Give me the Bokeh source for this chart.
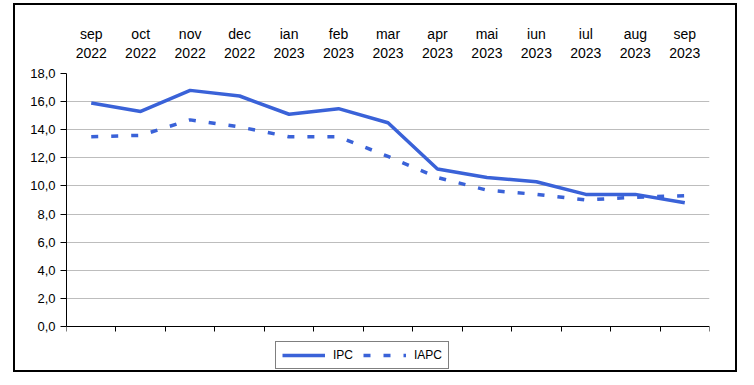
from bokeh.plotting import figure
from bokeh.models import (LinearAxis, FixedTicker, Range1d, Legend, LegendItem)
from bokeh.embed import file_html
from bokeh.resources import INLINE

months = ["sep\n2022", "oct\n2022", "nov\n2022", "dec\n2022", "ian\n2023", "feb\n2023",
          "mar\n2023", "apr\n2023", "mai\n2023", "iun\n2023", "iul\n2023", "aug\n2023",
          "sep\n2023"]
ipc = [15.9, 15.3, 16.8, 16.4, 15.1, 15.5, 14.5, 11.2, 10.6, 10.3, 9.4, 9.4, 8.8]
iapc = [13.5, 13.6, 14.7, 14.2, 13.5, 13.5, 12.1, 10.6, 9.7, 9.4, 9.0, 9.2, 9.3]
y_ticks = [0, 2, 4, 6, 8, 10, 12, 14, 16, 18]

FONT = "Liberation Sans"
BLUE = "#3a62d8"

n = len(months)
xs = list(range(n))

# frame: 18 units over 253 px, extended 44 px below zero for the legend
plot_h = 253
below_h = 44
y_min = -below_h * 18 / plot_h

p = figure(frame_width=643, frame_height=plot_h + below_h,
           output_backend="svg", toolbar_location=None,
           x_range=Range1d(-0.5, n - 0.5), y_range=Range1d(y_min, 18),
           x_axis_location=None, y_axis_location=None,
           min_border_left=51, min_border_top=68, min_border_right=26,
           min_border_bottom=0)
p.outline_line_color = None
p.background_fill_color = "white"
p.border_fill_color = "white"
p.styles = {"border": "2px solid black", "margin-left": "13px", "margin-top": "3px"}

# y axis
yax = LinearAxis(ticker=FixedTicker(ticks=y_ticks), bounds=(0, 18))
yax.major_label_overrides = {v: f"{v:.1f}".replace(".", ",") for v in y_ticks}
yax.major_label_text_font = FONT
yax.major_label_text_font_size = "13px"
yax.major_label_text_color = "black"
yax.major_tick_out = 6
yax.major_tick_in = 0
yax.minor_tick_line_color = None
yax.axis_line_color = "black"
yax.major_tick_line_color = "black"
yax.major_label_standoff = 5
p.add_layout(yax, "left")

# top axis: month labels
tax = LinearAxis(ticker=FixedTicker(ticks=xs))
tax.major_label_overrides = {i: m for i, m in zip(xs, months)}
tax.major_label_text_font = FONT
tax.major_label_text_font_size = "14px"
tax.major_label_text_color = "black"
tax.major_label_text_line_height = 1.15
tax.axis_line_color = None
tax.major_tick_line_color = None
tax.minor_tick_line_color = None
tax.major_label_standoff = 7
p.add_layout(tax, "above")

# category-boundary axis drawn at y = 0, ticks pointing down
b_ticks = [i - 0.5 for i in range(n + 1)]
bax = LinearAxis(ticker=FixedTicker(ticks=b_ticks), fixed_location=0)
bax.major_label_overrides = {t: "" for t in b_ticks}
bax.major_label_standoff = 0
bax.major_tick_out = 0
bax.major_tick_in = 5
bax.minor_tick_line_color = None
bax.axis_line_color = "black"
bax.major_tick_line_color = "black"
p.add_layout(bax, "above")

p.xgrid.visible = False
p.ygrid.ticker = FixedTicker(ticks=y_ticks)
p.ygrid.grid_line_color = "#bdbdbd"
p.ygrid.grid_line_width = 1

r1 = p.line(xs, ipc, line_color=BLUE, line_width=3.5)
r2 = p.line(xs, iapc, line_color=BLUE, line_width=3.5, line_dash="7 13")

legend = Legend(items=[LegendItem(label="IPC", renderers=[r1]),
                       LegendItem(label="IAPC", renderers=[r2])],
                orientation="horizontal", location=(209, 1))
legend.label_text_font = FONT
legend.label_text_font_size = "12px"
legend.label_text_color = "black"
legend.glyph_width = 43
legend.glyph_height = 12
legend.label_standoff = 8
legend.spacing = 10
legend.padding = 6
legend.margin = 0
legend.border_line_color = "black"
legend.border_line_width = 1
legend.background_fill_alpha = 1
p.add_layout(legend, "center")

open("out.html", "w").write(file_html(p, INLINE))
